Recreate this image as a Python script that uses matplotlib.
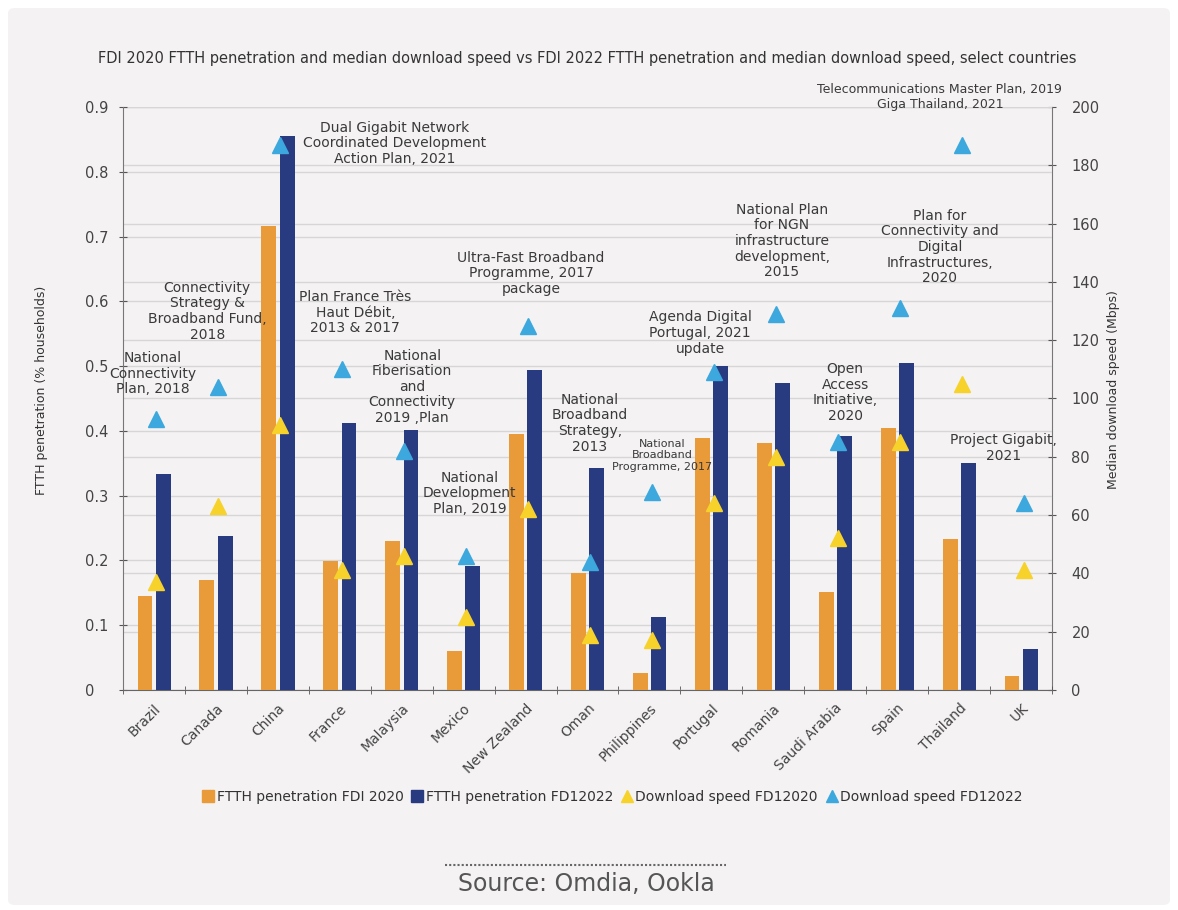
import matplotlib
matplotlib.use("Agg")
import matplotlib.pyplot as plt
import matplotlib.transforms as mtransforms
from matplotlib.patches import FancyBboxPatch
from matplotlib.lines import Line2D
import numpy as np

plt.rcParams['font.family'] = ['DejaVu Sans']

countries = ["Brazil", "Canada", "China", "France", "Malaysia", "Mexico", "New Zealand",
             "Oman", "Philippines", "Portugal", "Romania", "Saudi Arabia", "Spain",
             "Thailand", "UK"]
ftth_2020 = [0.145, 0.170, 0.716, 0.199, 0.230, 0.060, 0.395, 0.180, 0.026, 0.389,
             0.381, 0.151, 0.404, 0.233, 0.022]
ftth_2022 = [0.334, 0.238, 0.855, 0.412, 0.401, 0.191, 0.494, 0.343, 0.113, 0.500,
             0.474, 0.392, 0.505, 0.350, 0.063]
speed_2020 = [37, 63, 91, 41, 46, 25, 62, 19, 17, 64, 80, 52, 85, 105, 41]
speed_2022 = [93, 104, 187, 110, 82, 46, 125, 44, 68, 109, 129, 85, 131, 187, 64]

# (text, x category position, y in Mbps, fontsize)
annotations = [
    ("National\nConnectivity\nPlan, 2018", -0.02, 108.5, 10),
    ("Connectivity\nStrategy &\nBroadband Fund,\n2018", 0.86, 130, 10),
    ("Dual Gigabit Network\nCoordinated Development\nAction Plan, 2021", 3.89, 187.5, 10),
    ("Plan France Très\nHaut Débit,\n2013 & 2017", 3.25, 129.5, 10),
    ("National\nFiberisation\nand\nConnectivity\n2019 ,Plan", 4.17, 104, 10),
    ("Ultra-Fast Broadband\nProgramme, 2017\npackage", 6.09, 143, 10),
    ("National\nDevelopment\nPlan, 2019", 5.1, 67.5, 10),
    ("National\nBroadband\nStrategy,\n2013", 7.04, 91.5, 10),
    ("National\nBroadband\nProgramme, 2017", 8.2, 80.5, 8),
    ("Agenda Digital\nPortugal, 2021\nupdate", 8.82, 122.5, 10),
    ("National Plan\nfor NGN\ninfrastructure\ndevelopment,\n2015", 10.14, 154, 10),
    ("Open\nAccess\nInitiative,\n2020", 11.16, 102, 10),
    ("Plan for\nConnectivity and\nDigital\nInfrastructures,\n2020", 12.69, 152, 10),
    ("Telecommunications Master Plan, 2019\nGiga Thailand, 2021", 12.69, 203.5, 9),
    ("Project Gigabit,\n2021", 13.71, 83, 10),
]

ORANGE = "#E99B3A"
NAVY = "#283A80"
YELLOW = "#F6D22B"
BLUE = "#3CA8DE"
TXT = "#3a3a3a"
PANEL = "#F4F2F2"

fig = plt.figure(figsize=(11.78, 9.10), dpi=100, facecolor="white")
panel = FancyBboxPatch((8 / 1178, 5 / 910), 1162 / 1178, 897 / 910,
                       boxstyle="round,pad=0,rounding_size=0.006",
                       transform=fig.transFigure, facecolor=PANEL, edgecolor="none",
                       zorder=-10)
fig.patches.append(panel)

rect = [123 / 1178, 220 / 910, 929 / 1178, 583 / 910]
ax = fig.add_axes(rect)
ax2 = ax.twinx()
ax.set_zorder(ax2.get_zorder() + 1)
ax.patch.set_visible(False)
ax2.patch.set_visible(False)

x = np.arange(len(countries))
w = 0.24
ax.bar(x - 0.145, ftth_2020, width=w, color=ORANGE, zorder=3)
ax.bar(x + 0.15, ftth_2022, width=w, color=NAVY, zorder=3)

ax.set_xlim(-0.5, len(countries) - 0.5)
ax.set_ylim(0, 0.9)
ax2.set_ylim(0, 200)
ax.set_yticks(np.arange(0, 0.91, 0.1))
ax.set_yticklabels(["0"] + [f"{v:.1f}" for v in np.arange(0.1, 0.91, 0.1)])
ax2.set_yticks(np.arange(0, 201, 20))

ax.grid(axis="y", color="#d6d6d6", lw=1, zorder=0)
ax2.grid(axis="y", color="#d6d6d6", lw=1, zorder=0)
ax.set_axisbelow(True)

tr = mtransforms.blended_transform_factory(ax.transData, ax2.transData)
ax.plot(x + 0.04, speed_2020, linestyle="none", marker="^", markersize=12,
        color=YELLOW, transform=tr, zorder=5, clip_on=False)
ax.plot(x + 0.04, speed_2022, linestyle="none", marker="^", markersize=12,
        color=BLUE, transform=tr, zorder=5, clip_on=False)

for txt, xp, yp, fs in annotations:
    ax.text(xp, yp, txt, transform=tr, ha="center", va="center", fontsize=fs,
            color=TXT, linespacing=1.15, zorder=6, clip_on=False)

for a in (ax, ax2):
    a.spines["top"].set_visible(False)
    a.spines["left"].set_color("#777777")
    a.spines["right"].set_color("#777777")
    a.spines["bottom"].set_color("#666666")
ax.spines["right"].set_visible(False)
ax2.spines["left"].set_visible(False)
ax2.spines["bottom"].set_visible(False)

ax.tick_params(axis="y", direction="inout", length=6, color="#555555",
               labelsize=10.5, labelcolor="#444444", pad=24)
for lab in ax.get_yticklabels():
    lab.set_horizontalalignment("left")
ax2.tick_params(axis="y", direction="inout", length=6, color="#555555",
                labelsize=10.5, labelcolor="#444444", pad=11)

ax.set_xticks(x)
ax.set_xticklabels(countries, rotation=45, ha="right", rotation_mode="anchor",
                   fontsize=10, color="#444444")
ax.tick_params(axis="x", length=0, pad=8)
ax.set_xticks(np.arange(-0.5, len(countries), 1), minor=True)
ax.tick_params(axis="x", which="minor", direction="inout", length=6, color="#555555")

fig.text(42 / 1178, 1 - 390 / 910, "FTTH penetration (% households)", rotation=90,
         ha="center", va="center", fontsize=9, color="#333333")
fig.text(1113 / 1178, 1 - 390 / 910, "Median download speed (Mbps)", rotation=90,
         ha="center", va="center", fontsize=9, color="#333333")

fig.text(587 / 1178, 1 - 58 / 910,
         "FDI 2020 FTTH penetration and median download speed vs FDI 2022 FTTH penetration and median download speed, select countries",
         ha="center", va="center", fontsize=10.5, color="#333333")

handles = [
    Line2D([], [], linestyle="none", marker="s", markersize=9, color=ORANGE),
    Line2D([], [], linestyle="none", marker="s", markersize=9, color=NAVY),
    Line2D([], [], linestyle="none", marker="^", markersize=9, color=YELLOW),
    Line2D([], [], linestyle="none", marker="^", markersize=9, color=BLUE),
]
labels = ["FTTH penetration FDI 2020", "FTTH penetration FD12022",
          "Download speed FD12020", "Download speed FD12022"]
fig.legend(handles, labels, loc="center", bbox_to_anchor=(612 / 1178, 1 - 797 / 910),
           ncol=4, frameon=False, fontsize=10, handletextpad=0.1, columnspacing=0.5,
           handlelength=1.0, labelcolor="#333333")

fig.add_artist(Line2D([445 / 1178, 726 / 1178], [1 - 865 / 910, 1 - 865 / 910],
                      transform=fig.transFigure, color="#666666", lw=1.5,
                      linestyle=(0, (1, 1))))
fig.text(586 / 1178, 1 - 884 / 910, "Source: Omdia, Ookla", ha="center", va="center",
         fontsize=17, color="#555555")

fig.savefig("out.png", dpi=100, facecolor="white")
